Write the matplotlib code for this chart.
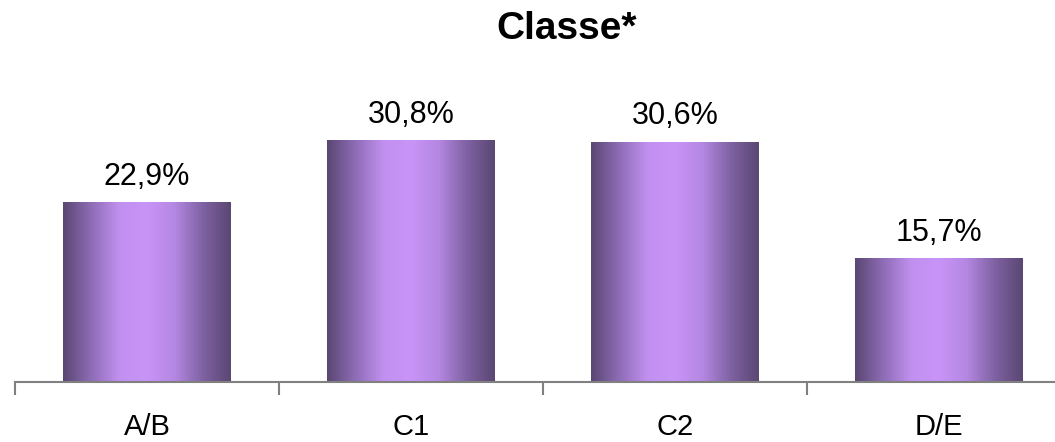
import numpy as np
import matplotlib.pyplot as plt
from matplotlib.colors import LinearSegmentedColormap

# bar chart "Classe*" with cylinder-like gradient bars

categories = ["A/B", "C1", "C2", "D/E"]
values = [22.9, 30.8, 30.6, 15.7]
labels = ["22,9%", "30,8%", "30,6%", "15,7%"]

plt.rcParams['font.family'] = ['Liberation Sans', 'DejaVu Sans']

W, H = 1055, 442
fig = plt.figure(figsize=(W / 100, H / 100), dpi=100)

# axis from x=15px to 1071px (last category runs off the edge), baseline at y=381.5px
ymax = 35
px_per_unit = 7.84
ax = fig.add_axes([15 / W, (H - 381.5) / H, (1071 - 15) / W, ymax * px_per_unit / H])

grad = LinearSegmentedColormap.from_list(
    "cyl", ["#5a4772", "#8e6cb6", "#c090ef", "#c994f8", "#b487e2", "#7f62a3", "#5a4772"])
g = np.linspace(0, 1, 256).reshape(1, -1)

bar_w = 0.633
x = np.arange(len(categories))
bars = ax.bar(x, values, width=bar_w, color="none", edgecolor="none")
for b, v, lab in zip(bars, values, labels):
    x0 = b.get_x()
    im = ax.imshow(g, cmap=grad, aspect="auto", extent=[x0, x0 + bar_w, 0, v], zorder=2)
    im.set_clip_path(b)
    ax.text(b.get_x() + bar_w / 2, v + 2.2, lab, ha="center", va="baseline", fontsize=22)

ax.set_xlim(-0.5, len(categories) - 0.5)
ax.set_ylim(0, ymax)
for s in ["top", "right", "left"]:
    ax.spines[s].set_visible(False)
ax.spines["bottom"].set_color("#808080")
ax.spines["bottom"].set_linewidth(1.5)
ax.set_yticks([])
ax.set_xticks(np.arange(-0.5, len(categories) + 0.5, 1))
ax.set_xticklabels([])
ax.tick_params(axis="x", direction="out", length=9, width=1.5, color="#808080")
for xi, c in zip(x, categories):
    ax.text(xi, -6.85, c, ha="center", va="baseline", fontsize=21)

fig.text(567 / W, 1 - 29 / H, "Classe*", ha="center", va="center", fontsize=28, fontweight="bold")

fig.savefig("out.png", dpi=100)
